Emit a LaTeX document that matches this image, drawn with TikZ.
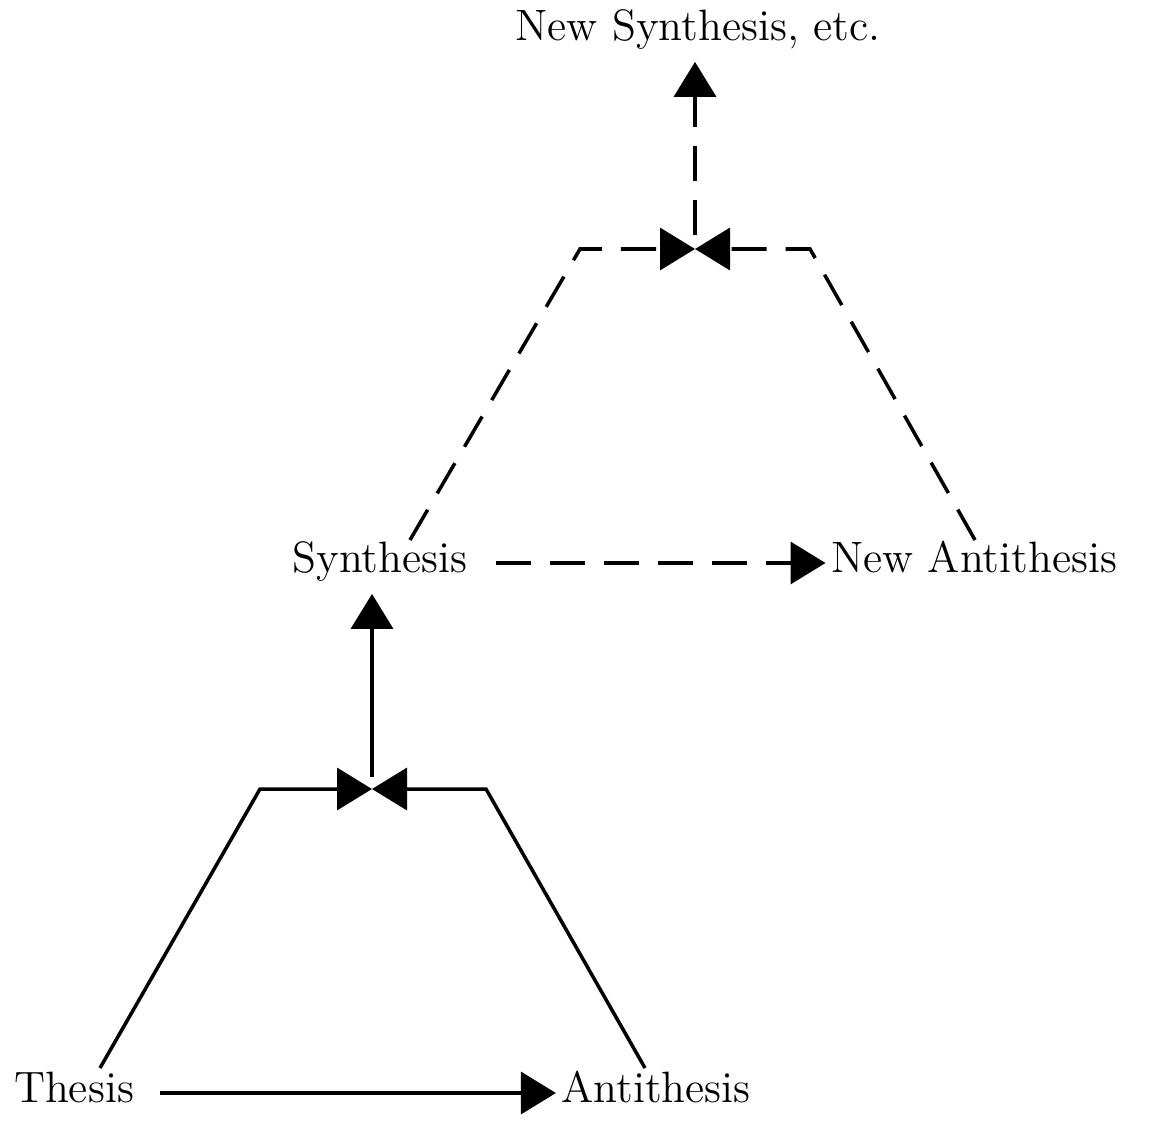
\documentclass[tikz,border=0pt]{standalone}
\usepackage{fontspec}
\usetikzlibrary{arrows.meta}

\begin{document}
\begin{tikzpicture}[line width=1pt,
        word/.style={font=\fontsize{12.5}{15}\selectfont,text height=1.8ex,text depth=0.5ex},
        dashline/.style={dash pattern=on 0.35cm off 0.19cm},
        >={Triangle[length=0.35cm,width=0.42cm]}]
                \useasboundingbox (0,0) rectangle (11.55,11.22);
                \node[word] (thesis) at (0.74,0.29) {Thesis};
                \node[word] (anti) at (6.56,0.29) {Antithesis};
                \node[word] (syn) at (3.80,5.59) {Synthesis};
                \node[word] (newanti) at (9.74,5.59) {New Antithesis};
                \node[word] (newsyn) at (6.98,10.91) {New Synthesis, etc.};
                \coordinate (meet1) at (3.72,3.33);
                \coordinate (meet2) at (6.95,8.73);
                % lower step
                \draw[->,shorten <=0.13cm,shorten >=-0.08cm] (thesis) -- (anti);
                \draw[->] (1.00,0.54) -- (2.60,3.33) -- (meet1);
                \draw[->] (6.45,0.54) -- (4.86,3.33) -- (meet1);
                \draw[->] ([yshift=0.12cm]meet1) -- (meet1 |- syn.south);
                % upper step
                \draw[->,dashline,shorten <=0.15cm,shorten >=-0.08cm] (syn) -- (newanti);
                \draw[->,dashline] (4.10,5.82) -- (5.80,8.73) -- (meet2);
                \draw[->,dashline] (9.75,5.82) -- (8.10,8.73) -- (meet2);
                \draw[->,dashline] ([yshift=0.14cm]meet2) -- (meet2 |- newsyn.south);
\end{tikzpicture}
\end{document}
